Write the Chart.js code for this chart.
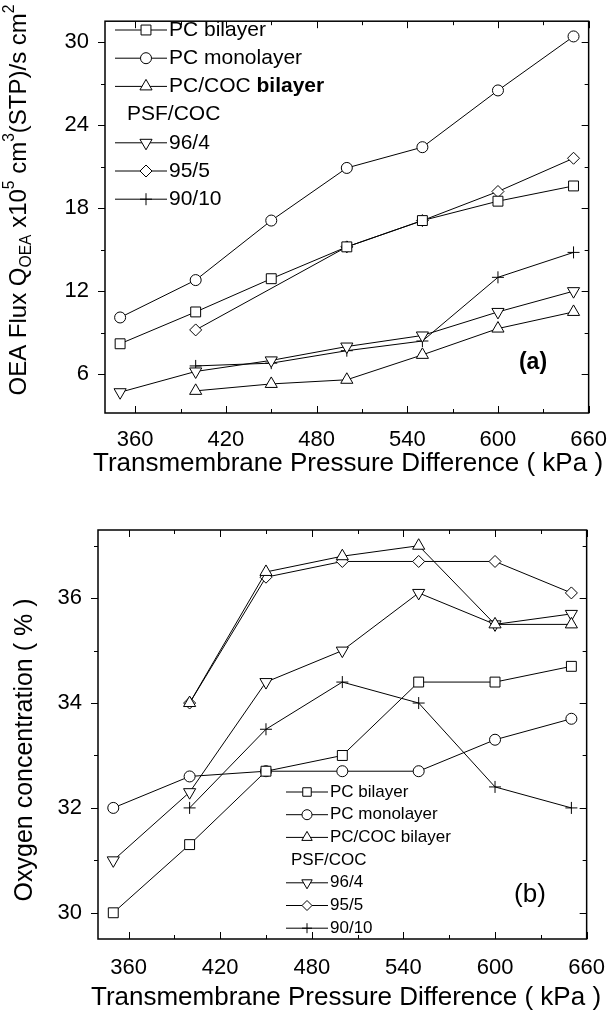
<!DOCTYPE html>
<html>
<head>
<meta charset="utf-8">
<script src="https://cdn.jsdelivr.net/npm/chart.js@4.4.0/dist/chart.umd.min.js"></script>
<style>
    body { margin: 0; background: #fff; }
    canvas { position: absolute; left: 0; }
    #chartA { top: 0; }
    #chartB { top: 500px; }
</style>
</head>
<body>
<canvas id="chartA" width="613" height="500"></canvas>
<canvas id="chartB" width="613" height="514"></canvas>
<script>
// pressure (kPa)
var pressure = [350, 400, 450, 500, 550, 600, 650];

// (a) OEA flux
var fluxPcBilayer   = [8.2, 10.5, 12.9, 15.2, 17.1, 18.5, 19.6];
var fluxPcMono      = [10.1, 12.8, 17.1, 20.9, 22.4, 26.5, 30.4];
var fluxPcCoc       = [null, 4.8, 5.3, 5.6, 7.4, 9.3, 10.5];
var flux96_4        = [4.7, 6.2, 7.0, 8.0, 8.8, 10.5, 12.0];
var flux95_5        = [null, 9.2, null, 15.2, 17.1, 19.2, 21.6];
var flux90_10       = [null, 6.6, 6.8, 7.7, 8.4, 13.0, 14.8];

// (b) oxygen concentration
var o2PcBilayer = [30.0, 31.3, 32.7, 33.0, 34.4, 34.4, 34.7];
var o2PcMono    = [32.0, 32.6, 32.7, 32.7, 32.7, 33.3, 33.7];
var o2PcCoc     = [null, 34.0, 36.5, 36.8, 37.0, 35.5, 35.5];
var o2_96_4     = [31.0, 32.3, 34.4, 35.0, 36.1, 35.5, 35.7];
var o2_95_5     = [null, 34.0, 36.4, 36.7, 36.7, 36.7, 36.1];
var o2_90_10    = [null, 32.0, 33.5, 34.4, 34.0, 32.4, 32.0];

var xTicks = [360, 420, 480, 540, 600, 660];
var yTicksA = [6, 12, 18, 24, 30];
var yTicksB = [30, 32, 34, 36];

var seriesNames = ['PC bilayer', 'PC monolayer', 'PC/COC bilayer', '96/4', '95/5', '90/10'];

var FONT = '"Liberation Sans", Arial, sans-serif';

// marker looks, one per series
var marcadores = [
    { style: 'rect', r: 7, rot: 0 },
    { style: 'circle', r: 5.5, rot: 0 },
    { style: 'triangle', r: 7, rot: 0 },
    { style: 'triangle', r: 7, rot: 180 },
    { style: 'rectRot', r: 6, rot: 0 },
    { style: 'cross', r: 6, rot: 0 }
];

function montarDatasets(listas) {
    return listas.map(function (lista, i) {
        return {
            label: seriesNames[i],
            data: pressure.map(function (p, j) { return { x: p, y: lista[j] }; }),
            borderColor: '#000',
            borderWidth: 1,
            backgroundColor: '#fff',
            pointBackgroundColor: '#fff',
            pointBorderColor: '#000',
            pointBorderWidth: 1,
            pointStyle: marcadores[i].style,
            pointRadius: marcadores[i].r,
            pointRotation: marcadores[i].rot,
            spanGaps: true,
            tension: 0
        };
    });
}

// simple marker for the hand drawn legend
function desenharMarcador(ctx, m, x, y, r) {
    ctx.beginPath();
    if (m.style === 'circle') {
        ctx.arc(x, y, r, 0, Math.PI * 2);
    } else if (m.style === 'rect') {
        var s = r * Math.SQRT1_2;
        ctx.rect(x - s, y - s, 2 * s, 2 * s);
    } else if (m.style === 'rectRot') {
        ctx.moveTo(x, y - r); ctx.lineTo(x + r, y); ctx.lineTo(x, y + r); ctx.lineTo(x - r, y); ctx.closePath();
    } else if (m.style === 'triangle') {
        var a = m.rot * Math.PI / 180;
        for (var k = 0; k < 3; k++) {
            var px = x + Math.sin(a) * r, py = y - Math.cos(a) * r;
            if (k === 0) ctx.moveTo(px, py); else ctx.lineTo(px, py);
            a += 2 * Math.PI / 3;
        }
        ctx.closePath();
    } else if (m.style === 'cross') {
        ctx.moveTo(x - r, y); ctx.lineTo(x + r, y);
        ctx.moveTo(x, y - r); ctx.lineTo(x, y + r);
    }
    ctx.fillStyle = '#fff';
    if (m.style !== 'cross') ctx.fill();
    ctx.stroke();
}

// text with sub / superscripts, centered on (cx, cy), optionally rotated
function textoRico(ctx, partes, cx, cy, size, rot) {
    ctx.save();
    ctx.translate(cx, cy);
    ctx.rotate(rot);
    ctx.textBaseline = 'middle';
    ctx.textAlign = 'left';
    var total = 0;
    partes.forEach(function (p) {
        var s = p.m === 'n' ? size : size * 0.65;
        ctx.font = (p.b ? 'bold ' : '') + s + 'px ' + FONT;
        p.w = ctx.measureText(p.t).width;
        total += p.w;
    });
    var x = -total / 2;
    partes.forEach(function (p) {
        var s = p.m === 'n' ? size : size * 0.65;
        var dy = p.m === 'sub' ? size * 0.3 : (p.m === 'sup' ? -size * 0.4 : 0);
        ctx.font = (p.b ? 'bold ' : '') + s + 'px ' + FONT;
        ctx.fillStyle = '#000';
        ctx.fillText(p.t, x, dy);
        x += p.w;
    });
    ctx.restore();
}

function criarDecoracao(cfg) {
    return {
        id: 'decoracao',
        afterDraw: function (chart) {
            var ctx = chart.ctx;
            var a = chart.chartArea;
            var sx = chart.scales.x, sy = chart.scales.y;
            ctx.save();
            ctx.strokeStyle = '#000';
            ctx.lineWidth = 1;

            // ticks: bottom/top/right point inward, left points outward
            ctx.beginPath();
            var xs = sx.ticks.map(function (t) { return t.value; });
            var xstep = xs[1] - xs[0];
            for (var v = xs[0] - xstep / 2; v <= xs[xs.length - 1] + xstep / 2; v += xstep / 2) {
                if (v < sx.min || v > sx.max) continue;
                var len = xs.indexOf(v) >= 0 ? 7 : 4;
                var px = Math.round(sx.getPixelForValue(v)) + 0.5;
                ctx.moveTo(px, a.bottom); ctx.lineTo(px, a.bottom - len);
                ctx.moveTo(px, a.top); ctx.lineTo(px, a.top + len);
            }
            var ys = sy.ticks.map(function (t) { return t.value; });
            var ystep = ys[1] - ys[0];
            for (var w = ys[0] - ystep / 2; w <= ys[ys.length - 1] + ystep / 2; w += ystep / 2) {
                if (w < sy.min || w > sy.max) continue;
                var l2 = ys.indexOf(w) >= 0 ? 7 : 4;
                var py = Math.round(sy.getPixelForValue(w)) + 0.5;
                ctx.moveTo(a.left, py); ctx.lineTo(a.left - l2, py);
                ctx.moveTo(a.right, py); ctx.lineTo(a.right - l2, py);
            }
            ctx.stroke();

            // frame
            ctx.lineWidth = 1.5;
            ctx.strokeRect(a.left, a.top, a.right - a.left, a.bottom - a.top);

            // axis titles
            textoRico(ctx, [{ t: 'Transmembrane Pressure Difference ( kPa )', m: 'n' }],
                cfg.xTitlePos[0], cfg.xTitlePos[1], cfg.titleSize, 0);
            textoRico(ctx, cfg.yTitle, cfg.yTitlePos[0], cfg.yTitlePos[1], cfg.yTitleSize, -Math.PI / 2);

            // legend
            var lg = cfg.legend;
            ctx.lineWidth = 1;
            lg.rows.forEach(function (row, i) {
                var y = lg.y0 + i * lg.dy;
                ctx.textBaseline = 'middle';
                ctx.textAlign = 'left';
                ctx.fillStyle = '#000';
                if (row.header) {
                    ctx.font = lg.size + 'px ' + FONT;
                    ctx.fillText(row.header, lg.headerX, y);
                    return;
                }
                ctx.beginPath();
                ctx.moveTo(lg.x0, y); ctx.lineTo(lg.x1, y);
                ctx.stroke();
                desenharMarcador(ctx, marcadores[row.serie], lg.xm, y, lg.r[row.serie]);
                var x = lg.x1 + 2;
                row.parts.forEach(function (p) {
                    ctx.font = (p.b ? 'bold ' : '') + lg.size + 'px ' + FONT;
                    ctx.fillStyle = '#000';
                    ctx.fillText(p.t, x, y);
                    x += ctx.measureText(p.t).width;
                });
            });

            // panel label
            ctx.font = cfg.label.font;
            ctx.textAlign = 'center';
            ctx.textBaseline = 'middle';
            ctx.fillText(cfg.label.t, cfg.label.x, cfg.label.y);
            ctx.restore();
        }
    };
}

function linhasLegenda(boldBilayer) {
    return [
        { serie: 0, parts: [{ t: 'PC bilayer' }] },
        { serie: 1, parts: [{ t: 'PC monolayer' }] },
        { serie: 2, parts: boldBilayer ? [{ t: 'PC/COC ' }, { t: 'bilayer', b: true }] : [{ t: 'PC/COC bilayer' }] },
        { header: 'PSF/COC' },
        { serie: 3, parts: [{ t: '96/4' }] },
        { serie: 4, parts: [{ t: '95/5' }] },
        { serie: 5, parts: [{ t: '90/10' }] }
    ];
}

function criarGrafico(id, listas, yMin, yMax, yTicks, box, tickSize, decor) {
    var ctx = document.getElementById(id).getContext('2d');
    return new Chart(ctx, {
        type: 'line',
        data: { datasets: montarDatasets(listas) },
        options: {
            responsive: false,
            animation: false,
            layout: { padding: { top: box.top, right: box.right, left: 0, bottom: 0 } },
            plugins: { legend: { display: false }, tooltip: { enabled: false } },
            scales: {
                x: {
                    type: 'linear',
                    min: 340, max: 660,
                    afterBuildTicks: function (s) { s.ticks = xTicks.map(function (v) { return { value: v }; }); },
                    afterFit: function (s) { s.height = box.xh; },
                    grid: { display: false },
                    border: { display: false },
                    ticks: { color: '#000', font: { family: FONT, size: tickSize }, padding: box.xpad, maxRotation: 0 }
                },
                y: {
                    min: yMin, max: yMax,
                    afterBuildTicks: function (s) { s.ticks = yTicks.map(function (v) { return { value: v }; }); },
                    afterFit: function (s) { s.width = box.yw; },
                    grid: { display: false },
                    border: { display: false },
                    ticks: { color: '#000', font: { family: FONT, size: tickSize }, padding: 8 }
                }
            }
        },
        plugins: [criarDecoracao(decor)]
    });
}

// (a)
criarGrafico('chartA',
    [fluxPcBilayer, fluxPcMono, fluxPcCoc, flux96_4, flux95_5, flux90_10],
    3.2, 31.5, yTicksA,
    { top: 7, right: 20, yw: 105, xh: 87, xpad: 6 }, 22,
    {
        xTitlePos: [348, 464], titleSize: 26,
        yTitle: [
            { t: 'OEA Flux Q', m: 'n' }, { t: 'OEA', m: 'sub' }, { t: ' x10', m: 'n' }, { t: '5', m: 'sup' },
            { t: ' cm', m: 'n' }, { t: '3', m: 'sup' }, { t: '(STP)/s cm', m: 'n' }, { t: '2', m: 'sup' }
        ],
        yTitlePos: [19, 200], yTitleSize: 24,
        legend: { rows: linhasLegenda(true), y0: 30, dy: 28.2, x0: 115, x1: 167, xm: 146, headerX: 127, size: 21,
            r: [7, 5.5, 7, 7, 6, 6] },
        label: { t: '(a)', x: 533, y: 363, font: 'bold 23px ' + FONT }
    });

// (b)
criarGrafico('chartB',
    [o2PcBilayer, o2PcMono, o2PcCoc, o2_96_4, o2_95_5, o2_90_10],
    29.5, 37.3, yTicksB,
    { top: 30, right: 24, yw: 98, xh: 75, xpad: 8 }, 22,
    {
        xTitlePos: [346, 498], titleSize: 26,
        yTitle: [{ t: 'Oxygen concentration ( % )', m: 'n' }],
        yTitlePos: [25, 250], yTitleSize: 25,
        legend: { rows: linhasLegenda(false), y0: 292, dy: 22.7, x0: 286, x1: 328, xm: 307, headerX: 291, size: 17,
            r: [6, 5, 6, 6, 5, 5] },
        label: { t: '(b)', x: 530, y: 395, font: '26px ' + FONT }
    });
</script>
</body>
</html>
